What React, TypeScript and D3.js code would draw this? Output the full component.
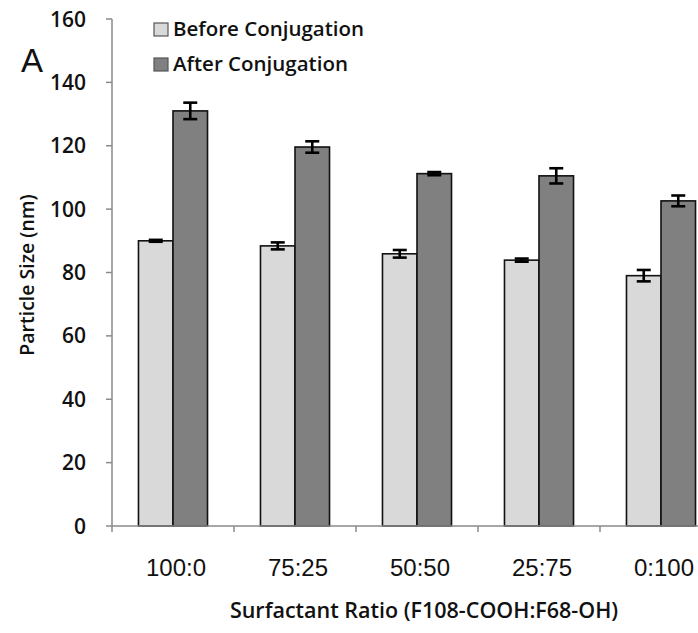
import React from "react";
import * as d3 from "d3";

const categories = ["100:0", "75:25", "50:50", "25:75", "0:100"];
const seriesNames = ["Before Conjugation", "After Conjugation"];
const beforeValues = [90, 88.4, 85.9, 83.9, 79];
const beforeErrors = [0.3, 1.1, 1.2, 0.5, 1.8];
const afterValues = [131, 119.6, 111.2, 110.5, 102.6];
const afterErrors = [2.6, 1.8, 0.5, 2.4, 1.7];
const yTicks = [0, 20, 40, 60, 80, 100, 120, 140, 160];
const seriesColors = ["#d9d9d9", "#808080"];

const W = 698;
const H = 633;

export default function App() {
  const y = d3.scaleLinear().domain([0, 160]).range([526, 19]);
  const x = d3
    .scaleBand<string>()
    .domain(categories)
    .range([112, 722])
    .paddingInner(0.434)
    .paddingOuter(0.217);
  const inner = d3
    .scaleBand<string>()
    .domain(seriesNames)
    .range([0, x.bandwidth()]);
  const values = [beforeValues, afterValues];
  const errors = [beforeErrors, afterErrors];
  const step = x.step();
  const axisColor = "#8a8a8a";
  const capHalf = 7;

  return (
    <svg
      width={W}
      height={H}
      style={{ position: "absolute", left: 0, top: 0, background: "#fff" }}
    >
      {/* bars */}
      {categories.map((c, i) => (
        <g key={c}>
          {seriesNames.map((s, si) => {
            const bx = (x(c) as number) + (inner(s) as number);
            const v = values[si][i];
            return (
              <rect
                key={s}
                x={bx}
                y={y(v)}
                width={inner.bandwidth()}
                height={y(0) - y(v)}
                fill={seriesColors[si]}
                stroke="#111"
                strokeWidth={1.6}
              />
            );
          })}
        </g>
      ))}
      {/* error bars */}
      {categories.map((c, i) => (
        <g key={"e" + c}>
          {seriesNames.map((s, si) => {
            const cx = (x(c) as number) + (inner(s) as number) + inner.bandwidth() / 2;
            const v = values[si][i];
            const e = errors[si][i];
            const y1 = y(v + e);
            const y2 = y(v - e);
            return (
              <g key={s} stroke="#000" strokeWidth={2.6}>
                <line x1={cx} x2={cx} y1={y1} y2={y2} />
                <line x1={cx - capHalf} x2={cx + capHalf} y1={y1} y2={y1} />
                <line x1={cx - capHalf} x2={cx + capHalf} y1={y2} y2={y2} />
              </g>
            );
          })}
        </g>
      ))}
      {/* y axis */}
      <line x1={112} x2={112} y1={y(160)} y2={y(0)} stroke={axisColor} strokeWidth={1.5} />
      {yTicks.map((t) => (
        <g key={t}>
          <line x1={106} x2={112} y1={y(t)} y2={y(t)} stroke={axisColor} strokeWidth={1.5} />
          <text
            x={86}
            y={y(t)}
            dy="0.36em"
            textAnchor="end"
            fontFamily="'Open Sans', sans-serif"
            fontWeight={600}
            fontSize={21}
            fill="#111"
          >
            {t}
          </text>
        </g>
      ))}
      {/* x axis */}
      <line x1={112} x2={W} y1={y(0)} y2={y(0)} stroke={axisColor} strokeWidth={1.5} />
      {categories.map((c, i) => (
        <line
          key={"t" + c}
          x1={112 + i * step}
          x2={112 + i * step}
          y1={y(0)}
          y2={y(0) + 6}
          stroke={axisColor}
          strokeWidth={1.5}
        />
      ))}
      {categories.map((c) => (
        <text
          key={"l" + c}
          x={(x(c) as number) + x.bandwidth() / 2 + 3}
          y={576}
          textAnchor="middle"
          fontFamily="'Liberation Sans', Arial, sans-serif"
          fontSize={24}
          fill="#111"
        >
          {c}
        </text>
      ))}
      {/* axis titles */}
      <text
        x={424}
        y={618}
        textAnchor="middle"
        fontFamily="'Open Sans', sans-serif"
        fontWeight={600}
        fontSize={21.5}
        fill="#111"
      >
        Surfactant Ratio (F108-COOH:F68-OH)
      </text>
      <text
        transform="translate(34,275) rotate(-90)"
        textAnchor="middle"
        fontFamily="'Open Sans', sans-serif"
        fontWeight={600}
        fontSize={19.5}
        fill="#111"
      >
        Particle Size (nm)
      </text>
      {/* panel label */}
      <text
        x={21}
        y={72}
        fontFamily="'Liberation Sans', Arial, sans-serif"
        fontSize={33}
        fill="#111"
      >
        A
      </text>
      {/* legend */}
      {seriesNames.map((s, si) => (
        <g key={"lg" + s} transform={`translate(154, ${23 + si * 35})`}>
          <rect x={0} y={0} width={14} height={13} fill={seriesColors[si]} stroke="#555" strokeWidth={1.2} />
          <text
            x={19}
            y={13}
            fontFamily="'Open Sans', sans-serif"
            fontWeight={600}
            fontSize={20.5}
            fill="#111"
          >
            {s}
          </text>
        </g>
      ))}
    </svg>
  );
}
